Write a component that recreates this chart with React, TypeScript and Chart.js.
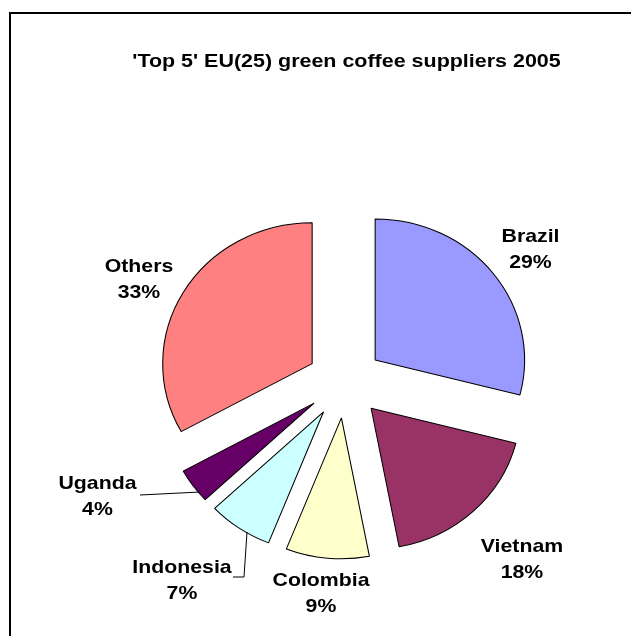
import React, { useEffect, useRef } from "react";
import { Chart, registerables } from "chart.js";

Chart.register(...registerables);

// ---- data ----
const categories = ["Brazil", "Vietnam", "Colombia", "Indonesia", "Uganda", "Others"];
const shares = [29, 18, 9, 7, 4, 33];
const chartTitle = "'Top 5' EU(25) green coffee suppliers 2005";

// ---- styles / layout ----
const sliceColors = ["#9999FF", "#993366", "#FFFFCC", "#CCFFFF", "#660066", "#FF8080"];
const labelAnchors = [
  { x: 530.5, y: 242 },
  { x: 522, y: 552 },
  { x: 321, y: 586 },
  { x: 182, y: 573 },
  { x: 97.5, y: 489 },
  { x: 139, y: 272 },
];
const leaderPaths: number[][][] = [
  [],
  [],
  [],
  [[233, 577], [244, 577], [247, 532]],
  [[140, 495], [200, 492]],
  [],
];
const FONT = '"Liberation Sans", Arial, sans-serif';
const EXPLODE = 36;
const PIE_STRETCH = 1.06;

function drawStretched(ctx: CanvasRenderingContext2D, text: string, x: number, y: number, sx: number) {
  ctx.save();
  ctx.translate(x, y);
  ctx.scale(sx, 1);
  ctx.fillText(text, 0, 0);
  ctx.restore();
}

const explodePlugin = {
  id: "explodeStretch",
  beforeDatasetsDraw(chart: any) {
    const { ctx, chartArea } = chart;
    const cx = (chartArea.left + chartArea.right) / 2;
    const cy = (chartArea.top + chartArea.bottom) / 2;
    const meta = chart.getDatasetMeta(0);
    meta.data.forEach((arc: any) => {
      const half = (arc.startAngle + arc.endAngle) / 2;
      arc.x = cx + Math.cos(half) * EXPLODE;
      arc.y = cy + Math.sin(half) * EXPLODE;
    });
    ctx.save();
    ctx.translate(cx, cy);
    ctx.scale(PIE_STRETCH, 1);
    ctx.translate(-cx, -cy);
  },
  afterDatasetsDraw(chart: any) {
    chart.ctx.restore();
  },
};

const decorPlugin = {
  id: "decor",
  afterDraw(chart: any) {
    const ctx: CanvasRenderingContext2D = chart.ctx;
    ctx.save();
    // frame
    ctx.fillStyle = "#000";
    ctx.fillRect(9, 12, 631 - 9, 2);
    ctx.fillRect(9, 12, 2, 636 - 12);
    // title
    ctx.textAlign = "center";
    ctx.textBaseline = "alphabetic";
    ctx.font = `bold 18.5px ${FONT}`;
    drawStretched(ctx, chartTitle, 346.5, 67, 1.16);
    // labels
    const total = shares.reduce((a, b) => a + b, 0);
    ctx.font = `bold 19px ${FONT}`;
    categories.forEach((name, i) => {
      const a = labelAnchors[i];
      const pct = Math.round((shares[i] / total) * 100) + "%";
      drawStretched(ctx, name, a.x, a.y, 1.12);
      drawStretched(ctx, pct, a.x, a.y + 25.5, 1.12);
    });
    // leader lines
    ctx.strokeStyle = "#000";
    ctx.lineWidth = 1;
    leaderPaths.forEach((p) => {
      if (!p.length) return;
      ctx.beginPath();
      ctx.moveTo(p[0][0], p[0][1]);
      for (let k = 1; k < p.length; k++) ctx.lineTo(p[k][0], p[k][1]);
      ctx.stroke();
    });
    ctx.restore();
  },
};

export default function App() {
  const ref = useRef<HTMLCanvasElement | null>(null);
  useEffect(() => {
    if (!ref.current) return;
    const chart = new Chart(ref.current, {
      type: "pie",
      data: {
        labels: categories,
        datasets: [
          {
            data: shares,
            backgroundColor: sliceColors,
            borderColor: "#000",
            borderWidth: 1,
            radius: 141,
          } as any,
        ],
      },
      options: {
        responsive: false,
        animation: false,
        events: [],
        layout: { padding: { left: 100, right: 41, top: 200, bottom: 72 } },
        plugins: {
          legend: { display: false },
          tooltip: { enabled: false },
          title: { display: false },
        },
      },
      plugins: [explodePlugin, decorPlugin],
    });
    return () => chart.destroy();
  }, []);
  return (
    <div style={{ position: "absolute", left: 0, top: 0, width: 631, height: 636, background: "#fff" }}>
      <canvas ref={ref} width={631} height={636} style={{ display: "block" }} />
    </div>
  );
}
